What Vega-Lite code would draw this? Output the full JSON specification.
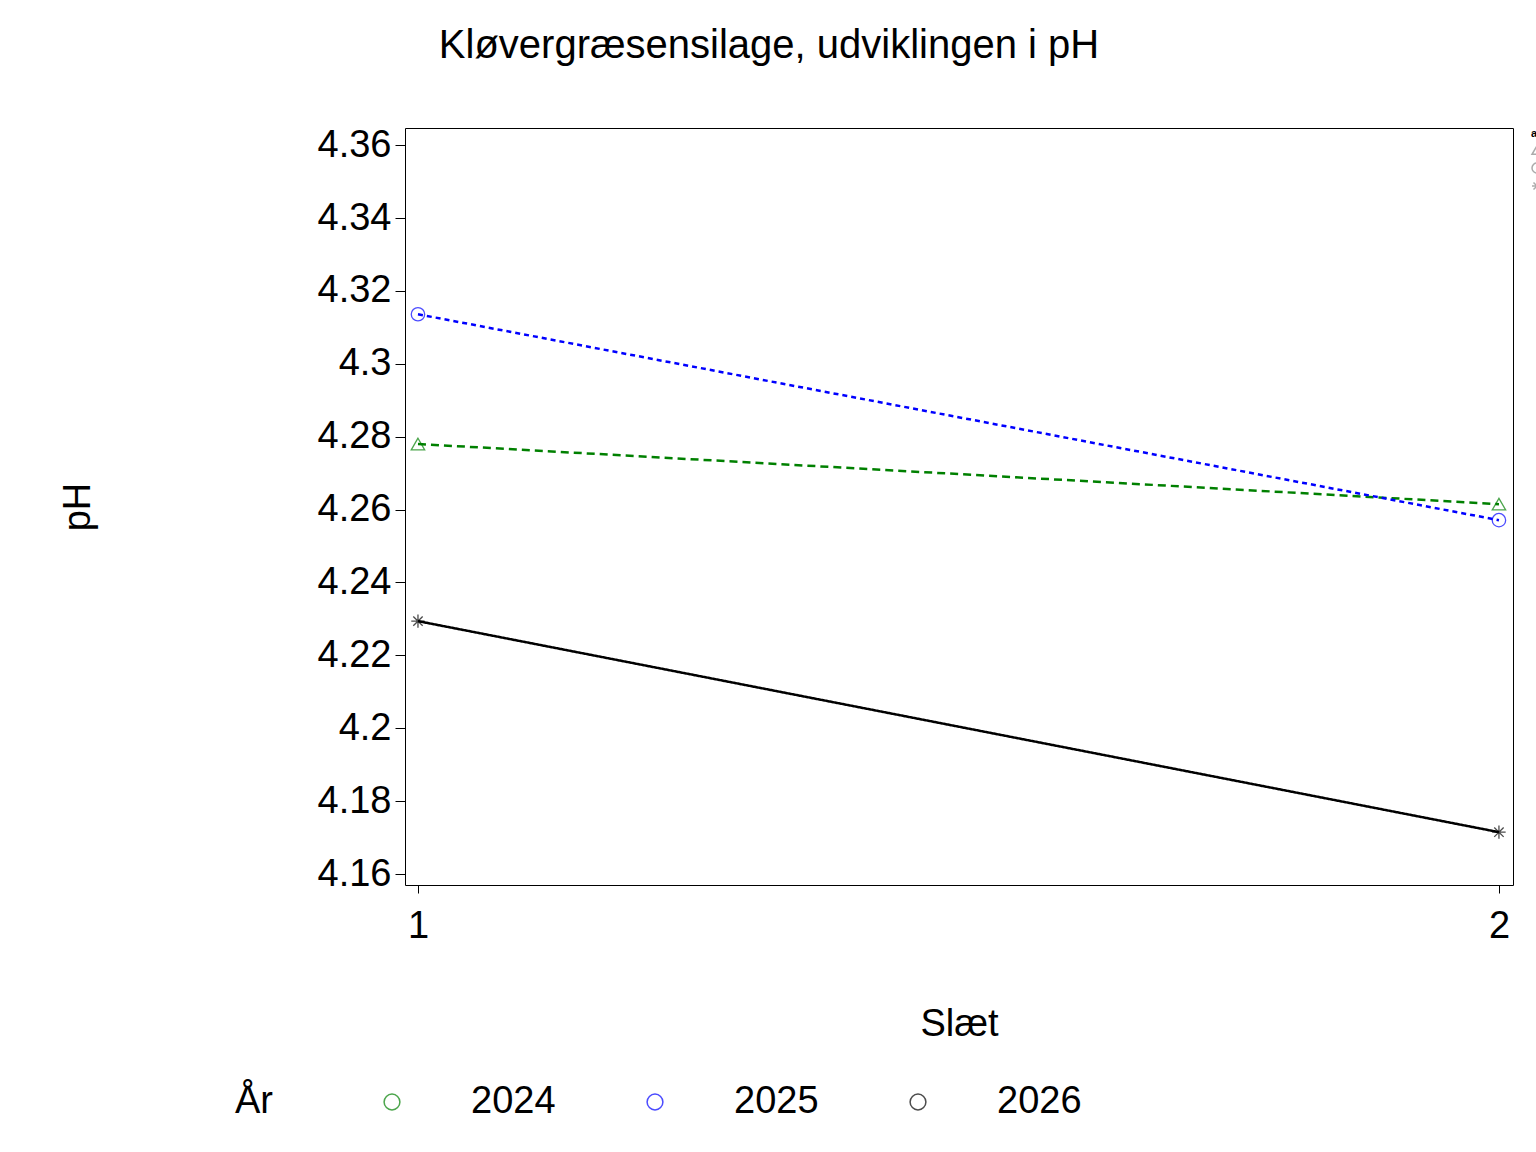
{
  "$schema": "https://vega.github.io/schema/vega-lite/v6.json",
  "autosize": "none",
  "width": 1108,
  "height": 757,
  "padding": {"left": 405, "top": 128, "right": 23, "bottom": 267},
  "background": "white",
  "title": {"text": "Kløvergræsensilage,  udviklingen  i  pH", "font": "Liberation Sans", "fontSize": 40, "fontWeight": "normal", "anchor": "middle", "frame": "group", "offset": 60, "dx": -190},
  "data": {"values": [
    {"slaet": 1, "ph": 4.278, "aar": "2024"},
    {"slaet": 2, "ph": 4.2615, "aar": "2024"},
    {"slaet": 1, "ph": 4.3136, "aar": "2025"},
    {"slaet": 2, "ph": 4.2571, "aar": "2025"},
    {"slaet": 1, "ph": 4.2294, "aar": "2026"},
    {"slaet": 2, "ph": 4.1715, "aar": "2026"}
  ]},
  "encoding": {
    "x": {"field": "slaet", "type": "quantitative", "scale": {"domain": [0.988, 2.013], "nice": false, "zero": false},
      "axis": {"values": [1, 2], "format": "d", "title": "Slæt", "titleFont": "Liberation Sans", "titleFontSize": 38, "titleFontWeight": "normal", "titlePadding": 60, "labelFont": "Liberation Sans", "labelFontSize": 38, "labelPadding": 14, "tickSize": 8, "grid": false, "domain": false, "tickColor": "black", "labelColor": "black", "titleColor": "black"}},
    "y": {"field": "ph", "type": "quantitative", "scale": {"domain": [4.157, 4.3647], "nice": false, "zero": false},
      "axis": {"values": [4.16, 4.18, 4.2, 4.22, 4.24, 4.26, 4.28, 4.3, 4.32, 4.34, 4.36], "format": ".2~f", "title": "pH", "titleFont": "Liberation Sans", "titleFontSize": 38, "titleFontWeight": "normal", "titlePadding": 220, "labelFont": "Liberation Sans", "labelFontSize": 38, "labelPadding": 4, "tickSize": 10, "grid": false, "domain": false, "tickColor": "black", "labelColor": "black", "titleColor": "black"}},
    "color": {"field": "aar", "type": "nominal", "scale": {"range": ["#008000", "#0000ff", "#000000"]},
      "legend": {"title": "År", "orient": "none", "legendX": -170, "legendY": 955, "direction": "horizontal", "titleOrient": "left", "titleFont": "Liberation Sans", "titleFontSize": 38, "titleFontWeight": "normal", "titlePadding": 100, "labelFont": "Liberation Sans", "labelFontSize": 38, "labelOffset": 60, "columnPadding": 80, "symbolSize": 250, "symbolStrokeWidth": 1.5, "symbolFillColor": "transparent", "titleColor": "black", "labelColor": "black"}}
  },
  "layer": [
    {"mark": {"type": "line", "strokeWidth": 2.5},
     "encoding": {"strokeDash": {"field": "aar", "type": "nominal", "legend": null, "scale": {"range": [[8, 5], [5, 4], [1, 0]]}}}},
    {"mark": {"type": "point", "filled": false, "size": 180, "strokeWidth": 1.3},
     "encoding": {"shape": {"field": "aar", "type": "nominal", "scale": {"range": ["triangle-up", "circle", "M-1,0L1,0M0,-1L0,1M-0.7,-0.7L0.7,0.7M-0.7,0.7L0.7,-0.7"]}}}}
  ],
  "config": {"view": {"stroke": "black", "strokeWidth": 1}, "axis": {"tickWidth": 1}}
}
